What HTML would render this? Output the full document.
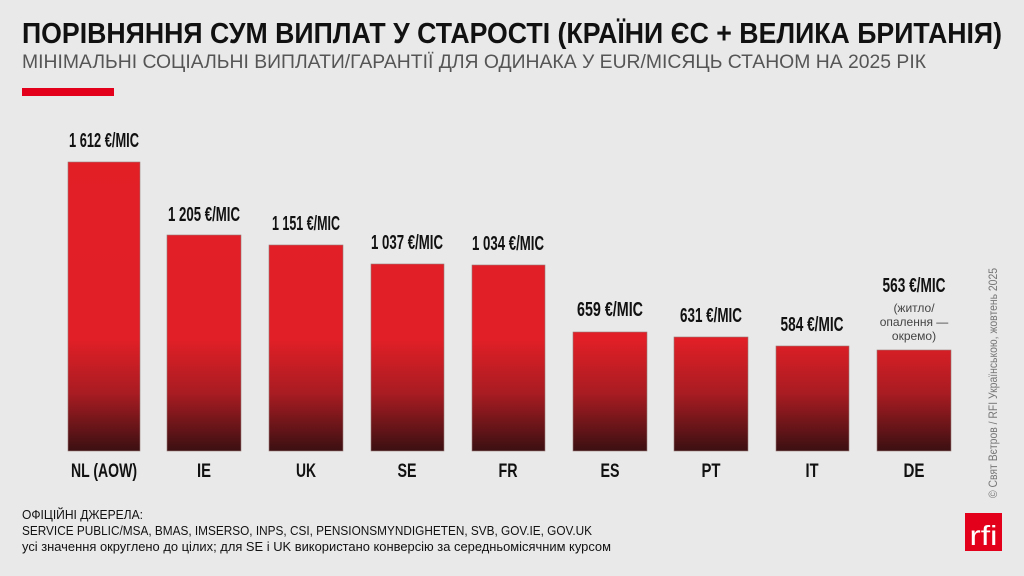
<!DOCTYPE html>
<html><head><meta charset="utf-8"><style>
html,body{margin:0;padding:0;background:#e9e9e9;}
svg{display:block;}
text{font-family:"Liberation Sans Narrow","Liberation Sans","DejaVu Sans",sans-serif;}
</style></head><body>
<svg width="1024" height="576" viewBox="0 0 1024 576" xmlns="http://www.w3.org/2000/svg">
<defs>
<linearGradient id="g" gradientUnits="userSpaceOnUse" x1="0" y1="160" x2="0" y2="451">
<stop offset="0" stop-color="#e31f26"/>
<stop offset="0.62" stop-color="#e01f26"/>
<stop offset="0.8" stop-color="#a91c22"/>
<stop offset="1" stop-color="#3b1012"/>
</linearGradient>
</defs>
<rect width="1024" height="576" fill="#e9e9e9"/>
<text x="22" y="43" font-size="29" font-weight="bold" fill="#111" textLength="980" lengthAdjust="spacingAndGlyphs">ПОРІВНЯННЯ СУМ ВИПЛАТ У СТАРОСТІ (КРАЇНИ ЄС + ВЕЛИКА БРИТАНІЯ)</text>
<text x="22" y="68" font-size="19" fill="#555" textLength="904" lengthAdjust="spacingAndGlyphs">МІНІМАЛЬНІ СОЦІАЛЬНІ ВИПЛАТИ/ГАРАНТІЇ ДЛЯ ОДИНАКА У EUR/МІСЯЦЬ СТАНОМ НА 2025 РІК</text>
<rect x="22" y="88" width="92" height="8" fill="#e3001b"/>
<g fill="url(#g)" stroke="#9a7a7a" stroke-width="0.6">
<rect x="68" y="162" width="72" height="289"/>
<rect x="167" y="235" width="74" height="216"/>
<rect x="269" y="245" width="74" height="206"/>
<rect x="371" y="264" width="73" height="187"/>
<rect x="472" y="265" width="73" height="186"/>
<rect x="573" y="332" width="74" height="119"/>
<rect x="674" y="337" width="74" height="114"/>
<rect x="776" y="346" width="73" height="105"/>
<rect x="877" y="350" width="74" height="101"/>
</g>
<g font-size="20" font-weight="bold" fill="#111" text-anchor="middle">
<text x="104" y="147" textLength="70" lengthAdjust="spacingAndGlyphs">1 612 €/МІС</text>
<text x="204" y="221" textLength="72" lengthAdjust="spacingAndGlyphs">1 205 €/МІС</text>
<text x="306" y="230" textLength="68" lengthAdjust="spacingAndGlyphs">1 151 €/МІС</text>
<text x="407" y="249" textLength="72" lengthAdjust="spacingAndGlyphs">1 037 €/МІС</text>
<text x="508" y="250" textLength="72" lengthAdjust="spacingAndGlyphs">1 034 €/МІС</text>
<text x="610" y="316" textLength="66" lengthAdjust="spacingAndGlyphs">659  €/МІС</text>
<text x="711" y="322" textLength="62" lengthAdjust="spacingAndGlyphs">631 €/МІС</text>
<text x="812" y="331" textLength="63" lengthAdjust="spacingAndGlyphs">584 €/МІС</text>
<text x="914" y="292" textLength="63" lengthAdjust="spacingAndGlyphs">563 €/МІС</text>
</g>
<g font-size="12" fill="#444" text-anchor="middle" style="font-family:'Liberation Sans',sans-serif">
<text x="914" y="312">(житло/</text>
<text x="914" y="326">опалення —</text>
<text x="914" y="340">окремо)</text>
</g>
<g font-size="19" font-weight="bold" fill="#111" text-anchor="middle">
<text x="104" y="477" textLength="66" lengthAdjust="spacingAndGlyphs">NL (AOW)</text>
<text x="204" y="477" textLength="14" lengthAdjust="spacingAndGlyphs">IE</text>
<text x="306" y="477" textLength="20" lengthAdjust="spacingAndGlyphs">UK</text>
<text x="407" y="477" textLength="19" lengthAdjust="spacingAndGlyphs">SE</text>
<text x="508" y="477" textLength="19" lengthAdjust="spacingAndGlyphs">FR</text>
<text x="610" y="477" textLength="19" lengthAdjust="spacingAndGlyphs">ES</text>
<text x="711" y="477" textLength="19" lengthAdjust="spacingAndGlyphs">PT</text>
<text x="812" y="477" textLength="13" lengthAdjust="spacingAndGlyphs">IT</text>
<text x="914" y="477" textLength="21" lengthAdjust="spacingAndGlyphs">DE</text>
</g>
<g font-size="13" fill="#111">
<text x="22" y="519" textLength="121" lengthAdjust="spacingAndGlyphs">ОФІЦІЙНІ ДЖЕРЕЛА:</text>
<text x="22" y="535" textLength="570" lengthAdjust="spacingAndGlyphs">SERVICE PUBLIC/MSA, BMAS, IMSERSO, INPS, CSI, PENSIONSMYNDIGHETEN, SVB, GOV.IE, GOV.UK</text>
<text x="22" y="551" textLength="589" lengthAdjust="spacingAndGlyphs">усі значення округлено до цілих; для SE і UK використано конверсію за середньомісячним курсом</text>
</g>
<text transform="translate(997,498) rotate(-90)" font-size="12" fill="#777" textLength="230" lengthAdjust="spacingAndGlyphs">© Свят Вєтров / RFI Українською, жовтень 2025</text>
<rect x="965" y="513" width="37" height="38" fill="#e3001b"/>
<text x="983.5" y="545" font-size="28" fill="#fff" text-anchor="middle" textLength="28" lengthAdjust="spacingAndGlyphs">rfi</text>
</svg>
</body></html>
